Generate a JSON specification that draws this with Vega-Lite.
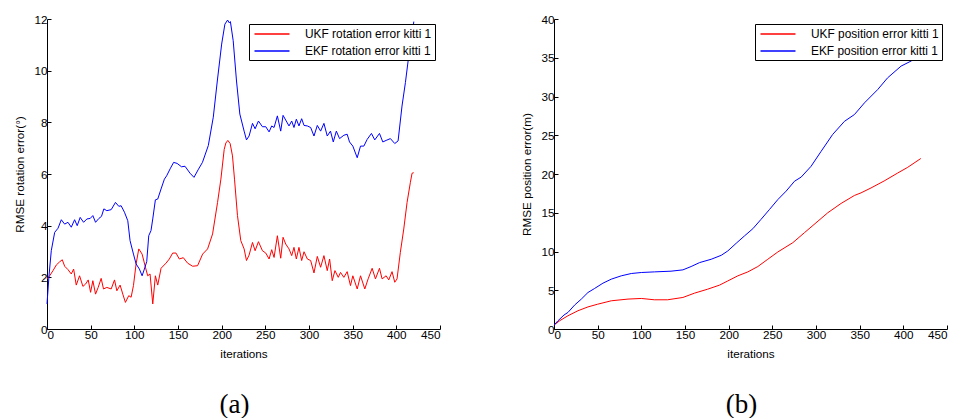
{
  "$schema": "https://vega.github.io/schema/vega-lite/v6.json",
  "padding": {"left": 14, "top": 14, "right": 0, "bottom": 0},
  "background": "white",
  "config": {
    "font": "Liberation Sans",
    "view": {"stroke": null},
    "axis": {
      "domainColor": "black", "tickColor": "black", "labelColor": "black", "titleColor": "black",
      "labelFontSize": 11.7, "titleFontSize": 11.7, "titleFontWeight": "normal",
      "tickSize": -4, "grid": false, "labelPadding": 4, "titlePadding": 8, "labelFont": "Liberation Sans", "titleFont": "Liberation Sans"
    },
    "legend": {
      "orient": "top-right", "offset": 5, "strokeColor": "black", "fillColor": "white",
      "padding": 3, "labelFontSize": 11.9, "labelColor": "black", "labelFont": "Liberation Sans",
      "rowPadding": 4
    },
    "title": {"font": "Liberation Serif", "fontSize": 27, "fontWeight": "normal", "color": "black"}
  },
  "datasets": {
    "rot": [
      {"x": 0, "v": 1.94, "s": "UKF rotation error kitti 1"},
      {"x": 3.0, "v": 2.06, "s": "UKF rotation error kitti 1"},
      {"x": 6.9, "v": 2.26, "s": "UKF rotation error kitti 1"},
      {"x": 10.7, "v": 2.48, "s": "UKF rotation error kitti 1"},
      {"x": 14.5, "v": 2.6, "s": "UKF rotation error kitti 1"},
      {"x": 17.5, "v": 2.68, "s": "UKF rotation error kitti 1"},
      {"x": 20.2, "v": 2.43, "s": "UKF rotation error kitti 1"},
      {"x": 24.0, "v": 2.3, "s": "UKF rotation error kitti 1"},
      {"x": 27.8, "v": 2.13, "s": "UKF rotation error kitti 1"},
      {"x": 30.5, "v": 2.32, "s": "UKF rotation error kitti 1"},
      {"x": 33.5, "v": 1.7, "s": "UKF rotation error kitti 1"},
      {"x": 37.3, "v": 2.06, "s": "UKF rotation error kitti 1"},
      {"x": 41.1, "v": 1.65, "s": "UKF rotation error kitti 1"},
      {"x": 44.2, "v": 1.74, "s": "UKF rotation error kitti 1"},
      {"x": 47.2, "v": 1.9, "s": "UKF rotation error kitti 1"},
      {"x": 49.9, "v": 1.42, "s": "UKF rotation error kitti 1"},
      {"x": 52.5, "v": 1.87, "s": "UKF rotation error kitti 1"},
      {"x": 55.6, "v": 1.35, "s": "UKF rotation error kitti 1"},
      {"x": 58.6, "v": 1.61, "s": "UKF rotation error kitti 1"},
      {"x": 62.0, "v": 1.96, "s": "UKF rotation error kitti 1"},
      {"x": 64.7, "v": 1.55, "s": "UKF rotation error kitti 1"},
      {"x": 68.5, "v": 1.61, "s": "UKF rotation error kitti 1"},
      {"x": 73.5, "v": 1.55, "s": "UKF rotation error kitti 1"},
      {"x": 77.3, "v": 1.9, "s": "UKF rotation error kitti 1"},
      {"x": 80.0, "v": 1.48, "s": "UKF rotation error kitti 1"},
      {"x": 83.7, "v": 1.7, "s": "UKF rotation error kitti 1"},
      {"x": 86.8, "v": 1.35, "s": "UKF rotation error kitti 1"},
      {"x": 89.8, "v": 1.03, "s": "UKF rotation error kitti 1"},
      {"x": 93.6, "v": 1.29, "s": "UKF rotation error kitti 1"},
      {"x": 96.3, "v": 1.23, "s": "UKF rotation error kitti 1"},
      {"x": 99.0, "v": 1.68, "s": "UKF rotation error kitti 1"},
      {"x": 102.0, "v": 2.52, "s": "UKF rotation error kitti 1"},
      {"x": 105.1, "v": 3.1, "s": "UKF rotation error kitti 1"},
      {"x": 108.9, "v": 2.9, "s": "UKF rotation error kitti 1"},
      {"x": 112.7, "v": 2.39, "s": "UKF rotation error kitti 1"},
      {"x": 115.3, "v": 2.06, "s": "UKF rotation error kitti 1"},
      {"x": 118.0, "v": 2.13, "s": "UKF rotation error kitti 1"},
      {"x": 121.1, "v": 0.97, "s": "UKF rotation error kitti 1"},
      {"x": 124.1, "v": 2.06, "s": "UKF rotation error kitti 1"},
      {"x": 126.8, "v": 1.7, "s": "UKF rotation error kitti 1"},
      {"x": 130.6, "v": 2.35, "s": "UKF rotation error kitti 1"},
      {"x": 136.3, "v": 2.55, "s": "UKF rotation error kitti 1"},
      {"x": 140.1, "v": 2.71, "s": "UKF rotation error kitti 1"},
      {"x": 143.9, "v": 2.94, "s": "UKF rotation error kitti 1"},
      {"x": 147.7, "v": 2.94, "s": "UKF rotation error kitti 1"},
      {"x": 151.5, "v": 2.71, "s": "UKF rotation error kitti 1"},
      {"x": 156.1, "v": 2.76, "s": "UKF rotation error kitti 1"},
      {"x": 161.0, "v": 2.55, "s": "UKF rotation error kitti 1"},
      {"x": 166.7, "v": 2.43, "s": "UKF rotation error kitti 1"},
      {"x": 172.4, "v": 2.45, "s": "UKF rotation error kitti 1"},
      {"x": 178.2, "v": 2.9, "s": "UKF rotation error kitti 1"},
      {"x": 183.9, "v": 3.1, "s": "UKF rotation error kitti 1"},
      {"x": 189.6, "v": 3.68, "s": "UKF rotation error kitti 1"},
      {"x": 195.3, "v": 4.9, "s": "UKF rotation error kitti 1"},
      {"x": 199.1, "v": 5.8, "s": "UKF rotation error kitti 1"},
      {"x": 202.9, "v": 6.95, "s": "UKF rotation error kitti 1"},
      {"x": 204.8, "v": 7.2, "s": "UKF rotation error kitti 1"},
      {"x": 207.1, "v": 7.3, "s": "UKF rotation error kitti 1"},
      {"x": 209.7, "v": 7.18, "s": "UKF rotation error kitti 1"},
      {"x": 212.4, "v": 6.7, "s": "UKF rotation error kitti 1"},
      {"x": 214.7, "v": 5.8, "s": "UKF rotation error kitti 1"},
      {"x": 218.1, "v": 4.39, "s": "UKF rotation error kitti 1"},
      {"x": 221.9, "v": 3.42, "s": "UKF rotation error kitti 1"},
      {"x": 225.7, "v": 3.1, "s": "UKF rotation error kitti 1"},
      {"x": 228.4, "v": 2.65, "s": "UKF rotation error kitti 1"},
      {"x": 231.4, "v": 2.86, "s": "UKF rotation error kitti 1"},
      {"x": 235.3, "v": 3.35, "s": "UKF rotation error kitti 1"},
      {"x": 238.3, "v": 3.03, "s": "UKF rotation error kitti 1"},
      {"x": 242.1, "v": 3.38, "s": "UKF rotation error kitti 1"},
      {"x": 246.7, "v": 3.03, "s": "UKF rotation error kitti 1"},
      {"x": 250.5, "v": 2.94, "s": "UKF rotation error kitti 1"},
      {"x": 254.3, "v": 2.71, "s": "UKF rotation error kitti 1"},
      {"x": 257.3, "v": 3.07, "s": "UKF rotation error kitti 1"},
      {"x": 260.0, "v": 2.77, "s": "UKF rotation error kitti 1"},
      {"x": 263.8, "v": 3.61, "s": "UKF rotation error kitti 1"},
      {"x": 267.6, "v": 2.74, "s": "UKF rotation error kitti 1"},
      {"x": 270.3, "v": 3.55, "s": "UKF rotation error kitti 1"},
      {"x": 273.3, "v": 3.29, "s": "UKF rotation error kitti 1"},
      {"x": 277.1, "v": 3.1, "s": "UKF rotation error kitti 1"},
      {"x": 280.2, "v": 2.84, "s": "UKF rotation error kitti 1"},
      {"x": 282.8, "v": 3.16, "s": "UKF rotation error kitti 1"},
      {"x": 285.5, "v": 2.71, "s": "UKF rotation error kitti 1"},
      {"x": 288.5, "v": 3.16, "s": "UKF rotation error kitti 1"},
      {"x": 291.6, "v": 2.65, "s": "UKF rotation error kitti 1"},
      {"x": 294.3, "v": 2.99, "s": "UKF rotation error kitti 1"},
      {"x": 298.1, "v": 2.71, "s": "UKF rotation error kitti 1"},
      {"x": 301.9, "v": 2.65, "s": "UKF rotation error kitti 1"},
      {"x": 305.7, "v": 2.17, "s": "UKF rotation error kitti 1"},
      {"x": 309.5, "v": 2.81, "s": "UKF rotation error kitti 1"},
      {"x": 313.3, "v": 2.39, "s": "UKF rotation error kitti 1"},
      {"x": 317.1, "v": 2.84, "s": "UKF rotation error kitti 1"},
      {"x": 320.9, "v": 2.26, "s": "UKF rotation error kitti 1"},
      {"x": 323.6, "v": 2.71, "s": "UKF rotation error kitti 1"},
      {"x": 326.6, "v": 1.87, "s": "UKF rotation error kitti 1"},
      {"x": 329.7, "v": 2.26, "s": "UKF rotation error kitti 1"},
      {"x": 333.5, "v": 2.0, "s": "UKF rotation error kitti 1"},
      {"x": 336.1, "v": 2.19, "s": "UKF rotation error kitti 1"},
      {"x": 339.9, "v": 2.0, "s": "UKF rotation error kitti 1"},
      {"x": 343.7, "v": 2.22, "s": "UKF rotation error kitti 1"},
      {"x": 347.5, "v": 1.68, "s": "UKF rotation error kitti 1"},
      {"x": 350.2, "v": 2.06, "s": "UKF rotation error kitti 1"},
      {"x": 355.2, "v": 1.55, "s": "UKF rotation error kitti 1"},
      {"x": 359.0, "v": 2.06, "s": "UKF rotation error kitti 1"},
      {"x": 363.9, "v": 1.55, "s": "UKF rotation error kitti 1"},
      {"x": 367.7, "v": 1.94, "s": "UKF rotation error kitti 1"},
      {"x": 372.3, "v": 2.35, "s": "UKF rotation error kitti 1"},
      {"x": 376.1, "v": 1.94, "s": "UKF rotation error kitti 1"},
      {"x": 380.7, "v": 2.35, "s": "UKF rotation error kitti 1"},
      {"x": 383.7, "v": 1.94, "s": "UKF rotation error kitti 1"},
      {"x": 388.3, "v": 2.06, "s": "UKF rotation error kitti 1"},
      {"x": 391.3, "v": 1.9, "s": "UKF rotation error kitti 1"},
      {"x": 395.1, "v": 2.22, "s": "UKF rotation error kitti 1"},
      {"x": 398.2, "v": 1.81, "s": "UKF rotation error kitti 1"},
      {"x": 400.8, "v": 1.94, "s": "UKF rotation error kitti 1"},
      {"x": 404.6, "v": 2.97, "s": "UKF rotation error kitti 1"},
      {"x": 408.5, "v": 3.87, "s": "UKF rotation error kitti 1"},
      {"x": 412.3, "v": 4.9, "s": "UKF rotation error kitti 1"},
      {"x": 416.1, "v": 5.68, "s": "UKF rotation error kitti 1"},
      {"x": 418.0, "v": 6.03, "s": "UKF rotation error kitti 1"},
      {"x": 419.9, "v": 6.05, "s": "UKF rotation error kitti 1"},
      {"x": 0, "v": 0.97, "s": "EKF rotation error kitti 1"},
      {"x": 2.3, "v": 2.06, "s": "EKF rotation error kitti 1"},
      {"x": 4.9, "v": 3.03, "s": "EKF rotation error kitti 1"},
      {"x": 8.8, "v": 3.74, "s": "EKF rotation error kitti 1"},
      {"x": 12.6, "v": 3.9, "s": "EKF rotation error kitti 1"},
      {"x": 16.4, "v": 4.23, "s": "EKF rotation error kitti 1"},
      {"x": 20.2, "v": 4.06, "s": "EKF rotation error kitti 1"},
      {"x": 24.0, "v": 4.13, "s": "EKF rotation error kitti 1"},
      {"x": 27.8, "v": 3.94, "s": "EKF rotation error kitti 1"},
      {"x": 31.6, "v": 4.23, "s": "EKF rotation error kitti 1"},
      {"x": 34.6, "v": 4.0, "s": "EKF rotation error kitti 1"},
      {"x": 38.0, "v": 4.32, "s": "EKF rotation error kitti 1"},
      {"x": 41.9, "v": 4.13, "s": "EKF rotation error kitti 1"},
      {"x": 45.7, "v": 4.26, "s": "EKF rotation error kitti 1"},
      {"x": 49.5, "v": 4.28, "s": "EKF rotation error kitti 1"},
      {"x": 52.5, "v": 4.39, "s": "EKF rotation error kitti 1"},
      {"x": 55.6, "v": 4.13, "s": "EKF rotation error kitti 1"},
      {"x": 59.4, "v": 4.28, "s": "EKF rotation error kitti 1"},
      {"x": 62.4, "v": 4.36, "s": "EKF rotation error kitti 1"},
      {"x": 65.1, "v": 4.65, "s": "EKF rotation error kitti 1"},
      {"x": 68.5, "v": 4.58, "s": "EKF rotation error kitti 1"},
      {"x": 73.5, "v": 4.62, "s": "EKF rotation error kitti 1"},
      {"x": 78.4, "v": 4.9, "s": "EKF rotation error kitti 1"},
      {"x": 82.2, "v": 4.75, "s": "EKF rotation error kitti 1"},
      {"x": 84.9, "v": 4.77, "s": "EKF rotation error kitti 1"},
      {"x": 88.7, "v": 4.52, "s": "EKF rotation error kitti 1"},
      {"x": 92.5, "v": 4.19, "s": "EKF rotation error kitti 1"},
      {"x": 95.1, "v": 3.42, "s": "EKF rotation error kitti 1"},
      {"x": 99.0, "v": 2.9, "s": "EKF rotation error kitti 1"},
      {"x": 102.0, "v": 2.52, "s": "EKF rotation error kitti 1"},
      {"x": 105.8, "v": 2.32, "s": "EKF rotation error kitti 1"},
      {"x": 108.9, "v": 2.06, "s": "EKF rotation error kitti 1"},
      {"x": 111.5, "v": 2.32, "s": "EKF rotation error kitti 1"},
      {"x": 114.2, "v": 2.61, "s": "EKF rotation error kitti 1"},
      {"x": 116.5, "v": 3.61, "s": "EKF rotation error kitti 1"},
      {"x": 119.1, "v": 3.81, "s": "EKF rotation error kitti 1"},
      {"x": 121.1, "v": 4.26, "s": "EKF rotation error kitti 1"},
      {"x": 124.1, "v": 5.0, "s": "EKF rotation error kitti 1"},
      {"x": 126.8, "v": 5.03, "s": "EKF rotation error kitti 1"},
      {"x": 130.6, "v": 5.42, "s": "EKF rotation error kitti 1"},
      {"x": 134.4, "v": 5.8, "s": "EKF rotation error kitti 1"},
      {"x": 137.0, "v": 5.93, "s": "EKF rotation error kitti 1"},
      {"x": 141.0, "v": 6.2, "s": "EKF rotation error kitti 1"},
      {"x": 145.0, "v": 6.45, "s": "EKF rotation error kitti 1"},
      {"x": 149.0, "v": 6.41, "s": "EKF rotation error kitti 1"},
      {"x": 154.0, "v": 6.28, "s": "EKF rotation error kitti 1"},
      {"x": 158.0, "v": 6.3, "s": "EKF rotation error kitti 1"},
      {"x": 163.8, "v": 6.03, "s": "EKF rotation error kitti 1"},
      {"x": 168.3, "v": 5.87, "s": "EKF rotation error kitti 1"},
      {"x": 173.0, "v": 6.16, "s": "EKF rotation error kitti 1"},
      {"x": 178.0, "v": 6.45, "s": "EKF rotation error kitti 1"},
      {"x": 184.7, "v": 7.1, "s": "EKF rotation error kitti 1"},
      {"x": 190.4, "v": 8.2, "s": "EKF rotation error kitti 1"},
      {"x": 195.0, "v": 9.6, "s": "EKF rotation error kitti 1"},
      {"x": 200.0, "v": 11.03, "s": "EKF rotation error kitti 1"},
      {"x": 203.7, "v": 11.8, "s": "EKF rotation error kitti 1"},
      {"x": 206.8, "v": 11.96, "s": "EKF rotation error kitti 1"},
      {"x": 208.7, "v": 11.85, "s": "EKF rotation error kitti 1"},
      {"x": 210.0, "v": 11.9, "s": "EKF rotation error kitti 1"},
      {"x": 213.2, "v": 11.16, "s": "EKF rotation error kitti 1"},
      {"x": 217.0, "v": 9.6, "s": "EKF rotation error kitti 1"},
      {"x": 220.8, "v": 8.32, "s": "EKF rotation error kitti 1"},
      {"x": 225.7, "v": 7.66, "s": "EKF rotation error kitti 1"},
      {"x": 228.4, "v": 7.32, "s": "EKF rotation error kitti 1"},
      {"x": 231.4, "v": 7.47, "s": "EKF rotation error kitti 1"},
      {"x": 235.3, "v": 7.96, "s": "EKF rotation error kitti 1"},
      {"x": 238.3, "v": 7.75, "s": "EKF rotation error kitti 1"},
      {"x": 242.1, "v": 8.05, "s": "EKF rotation error kitti 1"},
      {"x": 246.7, "v": 7.83, "s": "EKF rotation error kitti 1"},
      {"x": 250.5, "v": 7.83, "s": "EKF rotation error kitti 1"},
      {"x": 254.3, "v": 7.63, "s": "EKF rotation error kitti 1"},
      {"x": 257.3, "v": 7.86, "s": "EKF rotation error kitti 1"},
      {"x": 260.0, "v": 7.8, "s": "EKF rotation error kitti 1"},
      {"x": 263.8, "v": 8.25, "s": "EKF rotation error kitti 1"},
      {"x": 267.6, "v": 7.66, "s": "EKF rotation error kitti 1"},
      {"x": 270.3, "v": 8.27, "s": "EKF rotation error kitti 1"},
      {"x": 273.3, "v": 8.09, "s": "EKF rotation error kitti 1"},
      {"x": 277.1, "v": 7.86, "s": "EKF rotation error kitti 1"},
      {"x": 280.2, "v": 8.05, "s": "EKF rotation error kitti 1"},
      {"x": 282.8, "v": 7.8, "s": "EKF rotation error kitti 1"},
      {"x": 285.5, "v": 8.12, "s": "EKF rotation error kitti 1"},
      {"x": 288.5, "v": 7.86, "s": "EKF rotation error kitti 1"},
      {"x": 291.6, "v": 8.14, "s": "EKF rotation error kitti 1"},
      {"x": 294.3, "v": 7.88, "s": "EKF rotation error kitti 1"},
      {"x": 298.1, "v": 7.86, "s": "EKF rotation error kitti 1"},
      {"x": 301.9, "v": 7.8, "s": "EKF rotation error kitti 1"},
      {"x": 305.7, "v": 7.47, "s": "EKF rotation error kitti 1"},
      {"x": 309.5, "v": 7.88, "s": "EKF rotation error kitti 1"},
      {"x": 313.3, "v": 7.66, "s": "EKF rotation error kitti 1"},
      {"x": 317.1, "v": 7.96, "s": "EKF rotation error kitti 1"},
      {"x": 320.9, "v": 7.47, "s": "EKF rotation error kitti 1"},
      {"x": 324.6, "v": 7.66, "s": "EKF rotation error kitti 1"},
      {"x": 327.8, "v": 7.24, "s": "EKF rotation error kitti 1"},
      {"x": 331.3, "v": 7.66, "s": "EKF rotation error kitti 1"},
      {"x": 335.0, "v": 7.37, "s": "EKF rotation error kitti 1"},
      {"x": 339.9, "v": 7.5, "s": "EKF rotation error kitti 1"},
      {"x": 343.7, "v": 7.54, "s": "EKF rotation error kitti 1"},
      {"x": 346.4, "v": 7.24, "s": "EKF rotation error kitti 1"},
      {"x": 350.2, "v": 7.08, "s": "EKF rotation error kitti 1"},
      {"x": 355.2, "v": 6.63, "s": "EKF rotation error kitti 1"},
      {"x": 359.0, "v": 7.08, "s": "EKF rotation error kitti 1"},
      {"x": 362.8, "v": 7.08, "s": "EKF rotation error kitti 1"},
      {"x": 366.6, "v": 7.34, "s": "EKF rotation error kitti 1"},
      {"x": 371.5, "v": 7.57, "s": "EKF rotation error kitti 1"},
      {"x": 375.3, "v": 7.32, "s": "EKF rotation error kitti 1"},
      {"x": 380.7, "v": 7.57, "s": "EKF rotation error kitti 1"},
      {"x": 384.5, "v": 7.24, "s": "EKF rotation error kitti 1"},
      {"x": 388.3, "v": 7.3, "s": "EKF rotation error kitti 1"},
      {"x": 393.2, "v": 7.37, "s": "EKF rotation error kitti 1"},
      {"x": 398.2, "v": 7.18, "s": "EKF rotation error kitti 1"},
      {"x": 402.0, "v": 7.28, "s": "EKF rotation error kitti 1"},
      {"x": 406.5, "v": 8.63, "s": "EKF rotation error kitti 1"},
      {"x": 410.4, "v": 9.54, "s": "EKF rotation error kitti 1"},
      {"x": 414.2, "v": 10.57, "s": "EKF rotation error kitti 1"},
      {"x": 418.0, "v": 11.34, "s": "EKF rotation error kitti 1"},
      {"x": 420.0, "v": 11.9, "s": "EKF rotation error kitti 1"}
    ],
    "pos": [
      {"x": 0, "v": 0.5, "s": "UKF position error kitti 1"},
      {"x": 6.5, "v": 1.07, "s": "UKF position error kitti 1"},
      {"x": 16, "v": 1.71, "s": "UKF position error kitti 1"},
      {"x": 27.5, "v": 2.36, "s": "UKF position error kitti 1"},
      {"x": 38.9, "v": 2.85, "s": "UKF position error kitti 1"},
      {"x": 50, "v": 3.2, "s": "UKF position error kitti 1"},
      {"x": 65.6, "v": 3.64, "s": "UKF position error kitti 1"},
      {"x": 84.7, "v": 3.86, "s": "UKF position error kitti 1"},
      {"x": 100, "v": 3.94, "s": "UKF position error kitti 1"},
      {"x": 115, "v": 3.77, "s": "UKF position error kitti 1"},
      {"x": 130, "v": 3.77, "s": "UKF position error kitti 1"},
      {"x": 147.6, "v": 4.07, "s": "UKF position error kitti 1"},
      {"x": 161, "v": 4.63, "s": "UKF position error kitti 1"},
      {"x": 176, "v": 5.14, "s": "UKF position error kitti 1"},
      {"x": 189.5, "v": 5.66, "s": "UKF position error kitti 1"},
      {"x": 199, "v": 6.2, "s": "UKF position error kitti 1"},
      {"x": 210.5, "v": 6.86, "s": "UKF position error kitti 1"},
      {"x": 222, "v": 7.37, "s": "UKF position error kitti 1"},
      {"x": 233.4, "v": 8.06, "s": "UKF position error kitti 1"},
      {"x": 244.8, "v": 9.0, "s": "UKF position error kitti 1"},
      {"x": 256.3, "v": 9.94, "s": "UKF position error kitti 1"},
      {"x": 273.5, "v": 11.14, "s": "UKF position error kitti 1"},
      {"x": 286.8, "v": 12.43, "s": "UKF position error kitti 1"},
      {"x": 300, "v": 13.7, "s": "UKF position error kitti 1"},
      {"x": 313.5, "v": 15.0, "s": "UKF position error kitti 1"},
      {"x": 328.7, "v": 16.2, "s": "UKF position error kitti 1"},
      {"x": 344, "v": 17.23, "s": "UKF position error kitti 1"},
      {"x": 351.6, "v": 17.57, "s": "UKF position error kitti 1"},
      {"x": 363, "v": 18.2, "s": "UKF position error kitti 1"},
      {"x": 378, "v": 19.1, "s": "UKF position error kitti 1"},
      {"x": 393.6, "v": 20.13, "s": "UKF position error kitti 1"},
      {"x": 405, "v": 20.86, "s": "UKF position error kitti 1"},
      {"x": 420, "v": 22.0, "s": "UKF position error kitti 1"},
      {"x": 0, "v": 0.5, "s": "EKF position error kitti 1"},
      {"x": 4.6, "v": 1.07, "s": "EKF position error kitti 1"},
      {"x": 11.4, "v": 1.8, "s": "EKF position error kitti 1"},
      {"x": 16, "v": 2.14, "s": "EKF position error kitti 1"},
      {"x": 23.6, "v": 3.09, "s": "EKF position error kitti 1"},
      {"x": 31.3, "v": 3.86, "s": "EKF position error kitti 1"},
      {"x": 38.9, "v": 4.71, "s": "EKF position error kitti 1"},
      {"x": 46.5, "v": 5.23, "s": "EKF position error kitti 1"},
      {"x": 56, "v": 5.91, "s": "EKF position error kitti 1"},
      {"x": 65.6, "v": 6.43, "s": "EKF position error kitti 1"},
      {"x": 77, "v": 6.86, "s": "EKF position error kitti 1"},
      {"x": 88.5, "v": 7.16, "s": "EKF position error kitti 1"},
      {"x": 100, "v": 7.29, "s": "EKF position error kitti 1"},
      {"x": 115, "v": 7.37, "s": "EKF position error kitti 1"},
      {"x": 134, "v": 7.46, "s": "EKF position error kitti 1"},
      {"x": 147.6, "v": 7.63, "s": "EKF position error kitti 1"},
      {"x": 157, "v": 8.06, "s": "EKF position error kitti 1"},
      {"x": 166.7, "v": 8.57, "s": "EKF position error kitti 1"},
      {"x": 180, "v": 9.0, "s": "EKF position error kitti 1"},
      {"x": 191.5, "v": 9.51, "s": "EKF position error kitti 1"},
      {"x": 199, "v": 10.07, "s": "EKF position error kitti 1"},
      {"x": 208.6, "v": 11.06, "s": "EKF position error kitti 1"},
      {"x": 218, "v": 12.0, "s": "EKF position error kitti 1"},
      {"x": 227.7, "v": 12.94, "s": "EKF position error kitti 1"},
      {"x": 237, "v": 14.14, "s": "EKF position error kitti 1"},
      {"x": 246.8, "v": 15.43, "s": "EKF position error kitti 1"},
      {"x": 256.3, "v": 16.7, "s": "EKF position error kitti 1"},
      {"x": 265.8, "v": 17.79, "s": "EKF position error kitti 1"},
      {"x": 275.4, "v": 19.07, "s": "EKF position error kitti 1"},
      {"x": 283, "v": 19.6, "s": "EKF position error kitti 1"},
      {"x": 294.4, "v": 21.0, "s": "EKF position error kitti 1"},
      {"x": 305.9, "v": 22.93, "s": "EKF position error kitti 1"},
      {"x": 319, "v": 25.09, "s": "EKF position error kitti 1"},
      {"x": 332.6, "v": 26.8, "s": "EKF position error kitti 1"},
      {"x": 344, "v": 27.67, "s": "EKF position error kitti 1"},
      {"x": 355.5, "v": 29.18, "s": "EKF position error kitti 1"},
      {"x": 370.7, "v": 30.9, "s": "EKF position error kitti 1"},
      {"x": 382, "v": 32.41, "s": "EKF position error kitti 1"},
      {"x": 397.4, "v": 33.92, "s": "EKF position error kitti 1"},
      {"x": 408.8, "v": 34.57, "s": "EKF position error kitti 1"},
      {"x": 416.5, "v": 35.2, "s": "EKF position error kitti 1"},
      {"x": 420, "v": 35.5, "s": "EKF position error kitti 1"}
    ]
  },
  "spacing": 114,
  "bounds": "flush",
  "resolve": {"scale": {"color": "independent"}},
  "hconcat": [
    {
      "width": 393,
      "height": 310,
      "data": {"name": "rot"},
      "title": {"text": "(a)", "orient": "bottom", "anchor": "middle", "offset": 32, "dx": -9},
      "mark": {"type": "line", "strokeWidth": 1},
      "encoding": {
        "x": {"field": "x", "type": "quantitative", "scale": {"domain": [0, 450], "nice": false}, "axis": {"title": "iterations", "values": [0, 50, 100, 150, 200, 250, 300, 350, 400, 450]}},
        "y": {"field": "v", "type": "quantitative", "scale": {"domain": [0, 12], "nice": false}, "axis": {"title": "RMSE rotation error(°)", "values": [0, 2, 4, 6, 8, 10, 12]}},
        "color": {"field": "s", "type": "nominal", "sort": null, "scale": {"domain": ["UKF rotation error kitti 1", "EKF rotation error kitti 1"], "range": ["#ff0000", "#0000ff"]}, "legend": {"title": null, "symbolType": "M-3,0L3,0", "symbolSize": 136, "symbolStrokeWidth": 1.5, "symbolOffset": 13, "labelOffset": 26}}
      }
    },
    {
      "width": 393,
      "height": 310,
      "data": {"name": "pos"},
      "title": {"text": "(b)", "orient": "bottom", "anchor": "middle", "offset": 32, "dx": -9},
      "mark": {"type": "line", "strokeWidth": 1},
      "encoding": {
        "x": {"field": "x", "type": "quantitative", "scale": {"domain": [0, 450], "nice": false}, "axis": {"title": "iterations", "values": [0, 50, 100, 150, 200, 250, 300, 350, 400, 450]}},
        "y": {"field": "v", "type": "quantitative", "scale": {"domain": [0, 40], "nice": false}, "axis": {"title": "RMSE position error(m)", "values": [0, 5, 10, 15, 20, 25, 30, 35, 40]}},
        "color": {"field": "s", "type": "nominal", "sort": null, "scale": {"domain": ["UKF position error kitti 1", "EKF position error kitti 1"], "range": ["#ff0000", "#0000ff"]}, "legend": {"title": null, "symbolType": "M-3,0L3,0", "symbolSize": 136, "symbolStrokeWidth": 1.5, "symbolOffset": 13, "labelOffset": 26}}
      }
    }
  ]
}
